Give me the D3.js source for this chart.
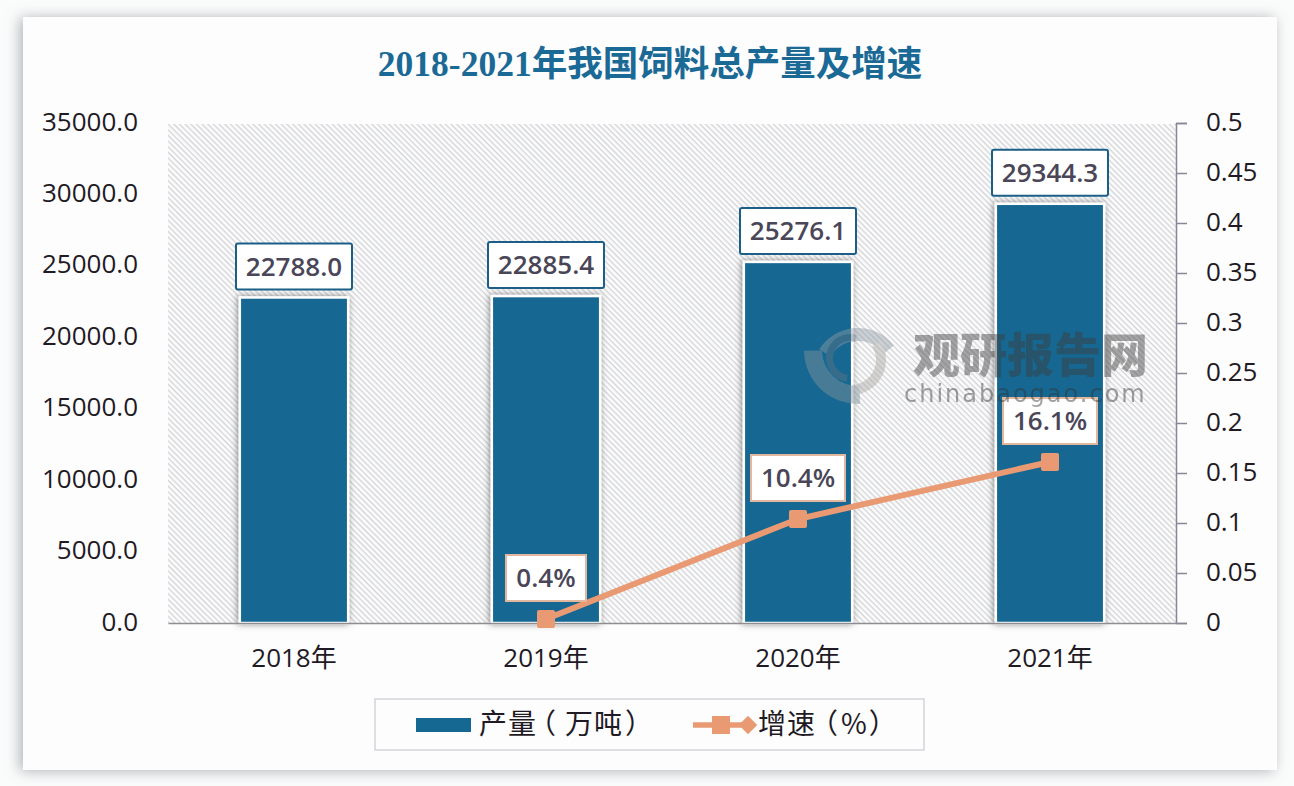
<!DOCTYPE html>
<html>
<head>
<meta charset="utf-8">
<script src="https://cdn.jsdelivr.net/npm/d3@7"></script>
<style>
html, body { margin: 0; padding: 0; background: #fafbfb; overflow: hidden; }
svg { display: block; }
</style>
</head>
<body>
<div id="chart"></div>
<script>
// chart data
var years = ["2018年", "2019年", "2020年", "2021年"];
var output = [22788.0, 22885.4, 25276.1, 29344.3];
var growthYears = ["2019年", "2020年", "2021年"];
var growth = [0.004, 0.104, 0.161];
var leftTicks = [0, 5000, 10000, 15000, 20000, 25000, 30000, 35000];
var rightTicks = [0, 0.05, 0.1, 0.15, 0.2, 0.25, 0.3, 0.35, 0.4, 0.45, 0.5];

var titleText = "2018-2021年我国饲料总产量及增速";
var outputName = "产量（万吨）";
var growthName = "增速（%）";

//svg dimensions
var svgWidth = 1294;
var svgHeight = 786;
var margin = { top: 123, right: 118, bottom: 163, left: 168 };
var width = svgWidth - margin.left - margin.right;
var height = svgHeight - margin.top - margin.bottom;

var barBlue = "#156892";
var orange = "#e99a73";
var labelInk = "#4a4658";
var axisInk = "#1f1a24";

var svg = d3.select("#chart").append("svg")
  .attr("width", svgWidth)
  .attr("height", svgHeight);

var defs = svg.append("defs");

// diagonal hatch behind the plot
var hatch = defs.append("pattern")
  .attr("id", "hatch")
  .attr("width", 4)
  .attr("height", 4)
  .attr("patternUnits", "userSpaceOnUse")
  .attr("patternTransform", "rotate(45)");
hatch.append("rect").attr("width", 4).attr("height", 4).attr("fill", "#fcfcfd");
hatch.append("rect").attr("width", 4).attr("height", 1.3).attr("fill", "#d2d3d6");

var cardShadow = defs.append("filter").attr("id", "cardShadow")
  .attr("x", "-5%").attr("y", "-5%").attr("width", "110%").attr("height", "110%");
cardShadow.append("feDropShadow")
  .attr("dx", -3).attr("dy", 1).attr("stdDeviation", 7)
  .attr("flood-color", "#7d8287").attr("flood-opacity", 0.6);

var markShadow = defs.append("filter").attr("id", "markShadow")
  .attr("x", "-20%").attr("y", "-20%").attr("width", "140%").attr("height", "140%");
markShadow.append("feDropShadow")
  .attr("dx", -1).attr("dy", 0).attr("stdDeviation", 3)
  .attr("flood-color", "#444").attr("flood-opacity", 0.65);

// card
svg.append("rect")
  .attr("x", 23).attr("y", 17)
  .attr("width", 1254).attr("height", 753)
  .attr("fill", "#fdfdfe")
  .attr("filter", "url(#cardShadow)");

// title
svg.append("text")
  .attr("x", 650).attr("y", 76)
  .attr("text-anchor", "middle")
  .attr("fill", "#1b6a96")
  .attr("font-family", "'Liberation Serif', 'Noto Sans CJK SC', serif")
  .attr("font-weight", "bold")
  .attr("font-size", 35.5)
  .text(titleText);

var chartGroup = svg.append("g")
  .attr("transform", `translate(${margin.left}, ${margin.top})`);

chartGroup.append("rect")
  .attr("y", 1)
  .attr("width", width)
  .attr("height", height - 1)
  .attr("fill", "url(#hatch)");

// scales
var xScale = d3.scaleBand().domain(years).range([0, width]).paddingInner(0.57).paddingOuter(0.285);
var yLeft = d3.scaleLinear().domain([0, 35000]).range([height, 0]);
var yRight = d3.scaleLinear().domain([0, 0.5]).range([height, 0]);
var xCenter = d => xScale(d) + xScale.bandwidth() / 2;

// bars
chartGroup.selectAll("rect.bar")
  .data(years)
  .enter()
  .append("rect")
  .attr("class", "bar")
  .attr("x", d => xScale(d))
  .attr("y", (d, i) => yLeft(output[i]))
  .attr("width", xScale.bandwidth())
  .attr("height", (d, i) => height - yLeft(output[i]))
  .attr("fill", barBlue)
  .attr("stroke", "#ffffff")
  .attr("stroke-width", 2.5)
  .attr("filter", "url(#markShadow)");

// axes
var leftAxis = d3.axisLeft(yLeft).tickValues(leftTicks).tickSize(0).tickPadding(30).tickFormat(d3.format(".1f"));
var rightAxis = d3.axisRight(yRight).tickValues(rightTicks).tickSize(11).tickPadding(19).tickFormat(d => String(d));
var bottomAxis = d3.axisBottom(xScale).tickSize(0).tickPadding(26);

var gLeft = chartGroup.append("g").call(leftAxis);
gLeft.select(".domain").remove();

var gRight = chartGroup.append("g")
  .attr("transform", `translate(${width}, 0)`)
  .call(rightAxis);
gRight.select(".domain").attr("stroke", "#8a8496").attr("stroke-width", 1.5);
gRight.selectAll("line").attr("stroke", "#8a8496").attr("stroke-width", 1.5);

var gBottom = chartGroup.append("g")
  .attr("transform", `translate(0, ${height})`)
  .call(bottomAxis);
gBottom.select(".domain").attr("stroke", "#8e8e92").attr("stroke-width", 1.5);

chartGroup.selectAll(".tick text")
  .attr("font-family", "'Open Sans', 'Noto Sans CJK SC', sans-serif")
  .attr("font-size", 26)
  .attr("fill", axisInk);
gLeft.selectAll(".tick text").attr("dy", "0.27em");
gRight.selectAll(".tick text").attr("dy", "0.27em");

// watermark, sits over the bars
var mark = svg.append("g").attr("opacity", 0.45).attr("pointer-events", "none");
var logoArc = d3.arc();
var logoParts = [
  { x: 858, y: 374, r0: 33, r1: 46, a0: -1.0, a1: 0.9, c: "#8f9ca4" },
  { x: 850, y: 358, r0: 17, r1: 24, a0: -3.0, a1: 0.3, c: "#5f7583" },
  { x: 851, y: 360, r0: 25, r1: 35, a0: 1.0, a1: 3.1, c: "#a9a7a2" },
  { x: 858, y: 350, r0: 36, r1: 54, a0: 3.1, a1: 4.7, c: "#83939d" }
];
mark.selectAll("path")
  .data(logoParts)
  .enter()
  .append("path")
  .attr("transform", d => `translate(${d.x}, ${d.y})`)
  .attr("d", d => logoArc({ innerRadius: d.r0, outerRadius: d.r1, startAngle: d.a0, endAngle: d.a1 }))
  .attr("fill", d => d.c);
mark.append("text")
  .attr("x", 913).attr("y", 372)
  .attr("font-family", "'Noto Sans CJK SC', sans-serif")
  .attr("font-weight", "900")
  .attr("font-size", 47)
  .attr("fill", "#3c3c3c")
  .text("观研报告网");
mark.append("text")
  .attr("x", 904).attr("y", 402)
  .attr("font-family", "'DejaVu Sans', sans-serif")
  .attr("font-size", 24)
  .attr("letter-spacing", 2)
  .attr("fill", "#333")
  .text("chinabaogao.com");

// growth line
var line = d3.line()
  .x(d => xCenter(d.year))
  .y(d => yRight(d.value));
var growthPoints = growthYears.map((y, i) => ({ year: y, value: growth[i] }));

chartGroup.append("path")
  .datum(growthPoints)
  .attr("d", line)
  .attr("fill", "none")
  .attr("stroke", orange)
  .attr("stroke-width", 6);

chartGroup.selectAll("rect.point")
  .data(growthPoints)
  .enter()
  .append("rect")
  .attr("class", "point")
  .attr("x", d => xCenter(d.year) - 9)
  .attr("y", d => yRight(d.value) - 9)
  .attr("width", 18)
  .attr("height", 18)
  .attr("rx", 2)
  .attr("fill", orange);

// output labels
var outputLabels = chartGroup.selectAll("g.outLabel")
  .data(years)
  .enter()
  .append("g")
  .attr("class", "outLabel")
  .attr("transform", (d, i) => `translate(${xCenter(d)}, ${yLeft(output[i]) - 31})`);
outputLabels.append("rect")
  .attr("x", -58).attr("y", -23)
  .attr("width", 116).attr("height", 46)
  .attr("rx", 2)
  .attr("fill", "#ffffff")
  .attr("stroke", "#1b5f88")
  .attr("stroke-width", 2);
outputLabels.append("text")
  .attr("text-anchor", "middle")
  .attr("dy", "0.36em")
  .attr("font-family", "'Open Sans', sans-serif")
  .attr("font-weight", 600)
  .attr("font-size", 26)
  .attr("fill", labelInk)
  .text((d, i) => output[i].toFixed(1));

// growth labels
var growthLabels = chartGroup.selectAll("g.growthLabel")
  .data(growthPoints)
  .enter()
  .append("g")
  .attr("class", "growthLabel")
  .attr("transform", d => `translate(${xCenter(d.year)}, ${yRight(d.value) - 41})`);
growthLabels.append("rect")
  .attr("x", d => d.value < 0.1 ? -40 : -47)
  .attr("y", -23)
  .attr("width", d => d.value < 0.1 ? 80 : 94)
  .attr("height", 46)
  .attr("fill", "#ffffff")
  .attr("stroke", "#e3b79e")
  .attr("stroke-width", 2);
growthLabels.append("text")
  .attr("text-anchor", "middle")
  .attr("dy", "0.36em")
  .attr("font-family", "'Open Sans', sans-serif")
  .attr("font-weight", 600)
  .attr("font-size", 26)
  .attr("fill", labelInk)
  .text(d => (d.value * 100).toFixed(1) + "%");

// legend
var legend = svg.append("g");
legend.append("rect")
  .attr("x", 375).attr("y", 699)
  .attr("width", 549).attr("height", 51)
  .attr("fill", "#fdfdfe")
  .attr("stroke", "#d3d5da")
  .attr("stroke-width", 1.5);
legend.append("rect")
  .attr("x", 416).attr("y", 718)
  .attr("width", 55).attr("height", 14)
  .attr("fill", barBlue);
legend.append("text")
  .attr("x", 479).attr("y", 734)
  .attr("dx", "0 1 -8 9 1 3")
  .attr("font-family", "'Noto Sans CJK SC', sans-serif")
  .attr("font-size", 28)
  .attr("fill", axisInk)
  .text(outputName);
legend.append("line")
  .attr("x1", 693).attr("x2", 750)
  .attr("y1", 725).attr("y2", 725)
  .attr("stroke", orange)
  .attr("stroke-width", 5.5);
legend.append("rect")
  .attr("x", 712).attr("y", 716)
  .attr("width", 18).attr("height", 18)
  .attr("fill", orange);
legend.append("path")
  .attr("d", d3.symbol().type(d3.symbolSquare).size(170))
  .attr("transform", "translate(748, 725) rotate(45)")
  .attr("fill", orange);
legend.append("text")
  .attr("x", 758).attr("y", 734)
  .attr("dx", "0 1 -5 3 2")
  .attr("font-family", "'Noto Sans CJK SC', sans-serif")
  .attr("font-size", 28)
  .attr("fill", axisInk)
  .text(growthName);
</script>
</body>
</html>
